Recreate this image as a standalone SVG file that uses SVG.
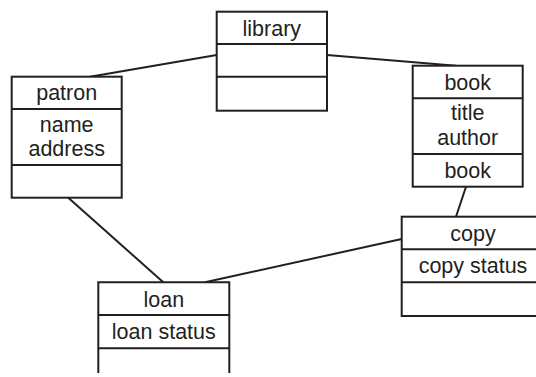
<svg xmlns="http://www.w3.org/2000/svg" width="536" height="377" viewBox="0 0 536 377">
<style>
.box{fill:#fff;stroke:#231f20;stroke-width:2}
.ln{stroke:#231f20;stroke-width:2;fill:none}
text{font-family:"Liberation Sans",Arial,sans-serif;font-size:21.5px;fill:#231f20;text-anchor:middle}
</style>
<rect width="536" height="377" fill="#fff"/>
<g id="connectors">
<line class="ln" x1="90" y1="76.7" x2="216.7" y2="55"/>
<line class="ln" x1="327" y1="55" x2="456" y2="65.7"/>
<line class="ln" x1="466" y1="186.7" x2="456" y2="216.7"/>
<line class="ln" x1="401.7" y1="239" x2="205" y2="282.3"/>
<line class="ln" x1="68.3" y1="197.7" x2="163.3" y2="282.3"/>
</g>
<g id="library">
<rect class="box" x="216.7" y="11.7" width="110.3" height="99"/>
<line class="ln" x1="216.7" y1="44" x2="327" y2="44"/>
<line class="ln" x1="216.7" y1="76.7" x2="327" y2="76.7"/>
<text x="271.8" y="35.5">library</text>
</g>
<g id="patron">
<rect class="box" x="11.7" y="76.7" width="110" height="121"/>
<line class="ln" x1="11.7" y1="109" x2="121.7" y2="109"/>
<line class="ln" x1="11.7" y1="165" x2="121.7" y2="165"/>
<text x="66.7" y="100.3">patron</text>
<text x="66.7" y="131.7">name</text>
<text x="66.7" y="156">address</text>
</g>
<g id="book">
<rect class="box" x="412.7" y="65.7" width="110" height="121"/>
<line class="ln" x1="412.7" y1="98.3" x2="522.7" y2="98.3"/>
<line class="ln" x1="412.7" y1="154" x2="522.7" y2="154"/>
<text x="467.7" y="90">book</text>
<text x="467.7" y="120">title</text>
<text x="467.7" y="145">author</text>
<text x="467.7" y="178.3">book</text>
</g>
<g id="copy">
<rect class="box" x="401.7" y="216.7" width="143" height="99.3"/>
<line class="ln" x1="401.7" y1="249.3" x2="545" y2="249.3"/>
<line class="ln" x1="401.7" y1="282.3" x2="545" y2="282.3"/>
<text x="473" y="240.5">copy</text>
<text x="473" y="272.5">copy status</text>
</g>
<g id="loan">
<path class="box" d="M98.3,373 V282.3 H229.3 V373"/>
<line class="ln" x1="98.3" y1="315" x2="229.3" y2="315"/>
<line class="ln" x1="98.3" y1="348.3" x2="229.3" y2="348.3"/>
<text x="163.8" y="306.5">loan</text>
<text x="163.8" y="338.5">loan status</text>
</g>
</svg>
